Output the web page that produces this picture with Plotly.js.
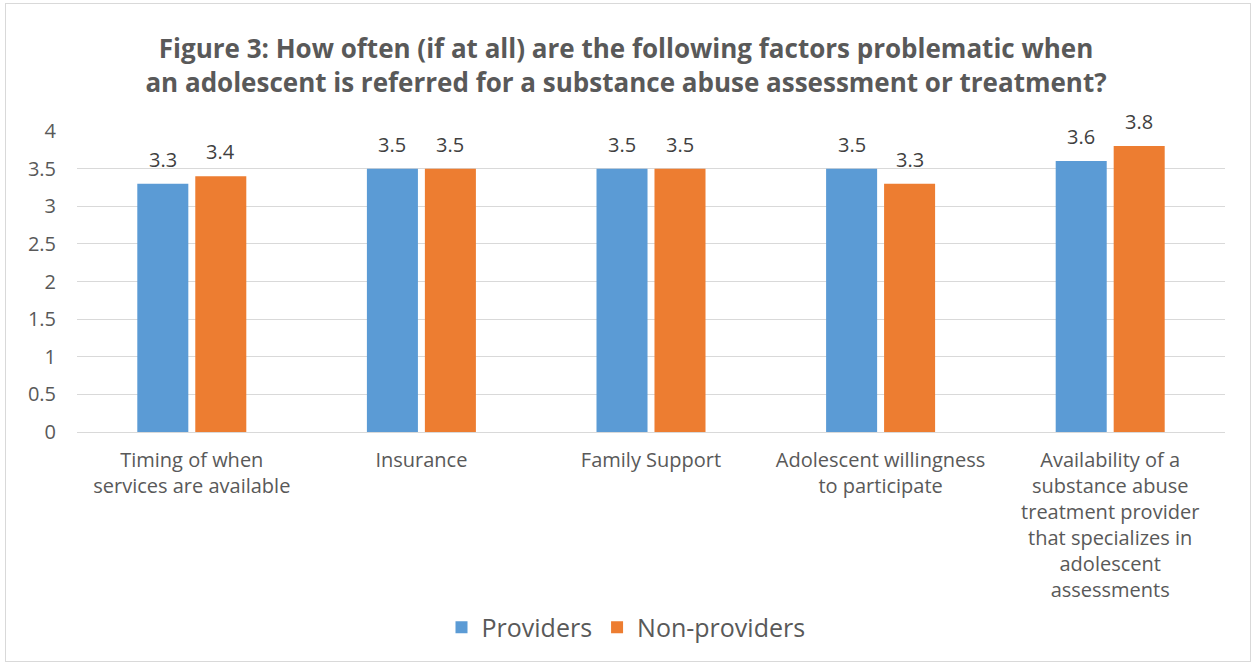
<!DOCTYPE html>
<html>
<head>
<meta charset="utf-8">
<script src="https://cdn.plot.ly/plotly-3.0.1.min.js"></script>
<style>
body{margin:0;padding:0;background:#fff;}
#chart{width:1252px;height:664px;position:relative;}
#frame{position:absolute;left:5px;top:3px;width:1244px;height:657px;border:1px solid #d9d9d9;pointer-events:none;}
</style>
</head>
<body>
<div id="chart"></div>
<div id="frame"></div>
<script>
const categories = [
  "Timing of when<br>services are available",
  "Insurance",
  "Family Support",
  "Adolescent willingness<br>to participate",
  "Availability of a<br>substance abuse<br>treatment provider<br>that specializes in<br>adolescent<br>assessments"
];
const providers = [3.3, 3.5, 3.5, 3.5, 3.6];
const nonProviders = [3.4, 3.5, 3.5, 3.3, 3.8];
const yTicks = [0, 0.5, 1, 1.5, 2, 2.5, 3, 3.5, 4];

const font = "Open Sans, Liberation Sans, sans-serif";
const txtColor = "#595959";

const traces = [
  {type:"bar", name:"Providers", x:categories, y:providers,
   marker:{color:"#5b9bd5"}, hoverinfo:"none"},
  {type:"bar", name:"Non-providers", x:categories, y:nonProviders,
   marker:{color:"#ed7d31"}, hoverinfo:"none"}
];

const labelAnn = (vals, dx) => vals.map((v, i) => ({
  x: categories[i], y: v, xref:"x", yref:"y", text: v.toFixed(1),
  showarrow:false, xshift:dx, yshift:9, yanchor:"bottom", xanchor:"center",
  font:{family:font,size:20,color:"#404040"}
}));

const layout = {
  width:1252, height:664,
  margin:{l:77, r:27, t:131, b:232},
  paper_bgcolor:"#ffffff", plot_bgcolor:"#ffffff",
  title:{text:"<b>Figure 3: How often (if at all) are the following factors problematic when<br>an adolescent is referred for a substance abuse assessment or treatment?</b>",
    font:{family:font,size:26,color:txtColor}, x:0.5, xanchor:"center", y:0.912, yanchor:"middle"},
  barmode:"group", bargap:0.495, bargroupgap:0.12,
  xaxis:{tickfont:{family:font,size:20,color:txtColor}, showgrid:false, automargin:false,
    showline:true, linecolor:"#d9d9d9", ticks:"", ticklabelstandoff:10, fixedrange:true},
  yaxis:{range:[0,4], tickvals:yTicks, ticktext:yTicks.map(String), automargin:false,
    tickfont:{family:font,size:20,color:txtColor}, showgrid:true, gridcolor:"#d9d9d9",
    zeroline:true, zerolinecolor:"#d9d9d9", ticks:"", ticklabelstandoff:20, fixedrange:true},
  legend:{orientation:"h", x:0.5, xanchor:"center", xref:"container", yref:"container", y:0.055, yanchor:"middle",
    font:{family:font,size:25,color:txtColor}, itemwidth:30},
  annotations: labelAnn(providers, -29).concat(labelAnn(nonProviders, 29)),
  showlegend:true
};

Plotly.newPlot("chart", traces, layout, {displayModeBar:false, staticPlot:true});
</script>
</body>
</html>
